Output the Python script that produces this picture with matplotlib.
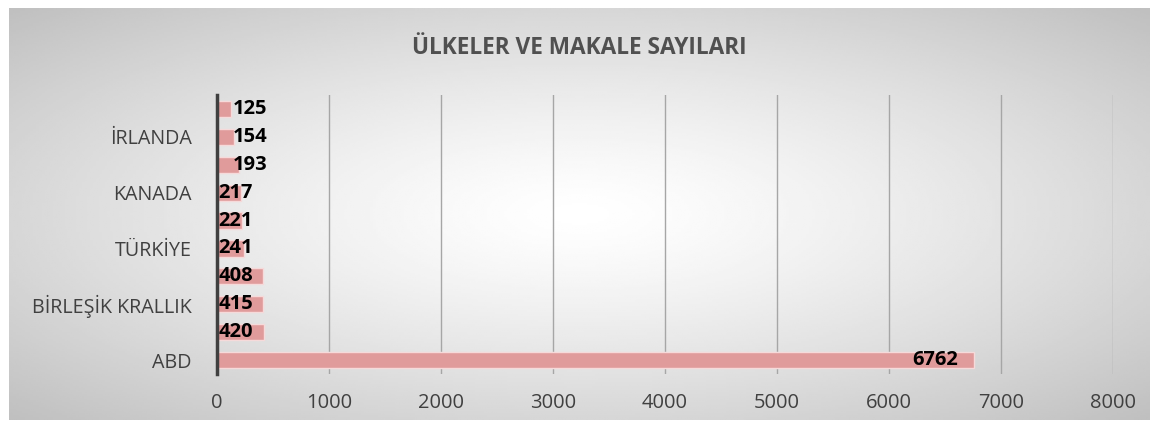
import numpy as np
import matplotlib.pyplot as plt

# ABD at the bottom, then upward
countries = ["ABD", "", "BİRLEŞİK KRALLIK", "", "TÜRKİYE", "", "KANADA", "", "İRLANDA", ""]
articles = [6762, 420, 415, 408, 241, 221, 217, 193, 154, 125]
x_ticks = [0, 1000, 2000, 3000, 4000, 5000, 6000, 7000, 8000]

plt.rcParams['font.family'] = ['Open Sans', 'DejaVu Sans']

fig = plt.figure(figsize=(11.58, 4.28), dpi=100)

# light gray radial gradient behind the chart
bg = fig.add_axes([9 / 1158, 8 / 428, 1141 / 1158, 412 / 428])
gx, gy = np.meshgrid(np.linspace(-1, 1, 400), np.linspace(-1, 1, 200))
r = np.sqrt(gx ** 2 + gy ** 2) / np.sqrt(2)
bg.imshow(1 - 0.25 * r ** 1.3, cmap='gray', vmin=0, vmax=1, aspect='auto', extent=[0, 1, 0, 1])
bg.set_axis_off()

ax = fig.add_axes([217 / 1158, 1 - 374 / 428, 896 / 1158, 279 / 428])
ax.patch.set_alpha(0)
y = np.arange(len(articles))
ax.barh(y, articles, height=0.58, color='#E09B9B', edgecolor='#F6DADA', linewidth=1, zorder=3)

for yi, v in zip(y, articles):
    if v > 1000:
        ax.text(v - 150, yi, str(v), ha='right', va='center', fontsize=14.5,
                fontweight='bold', color='black', zorder=4)
    else:
        xpos = 140 if v < 200 else 15
        ax.text(xpos, yi, str(v), ha='left', va='center', fontsize=14.5,
                fontweight='bold', color='black', zorder=4)

ax.set_xlim(0, 8000)
ax.set_ylim(-0.5, len(articles) - 0.5)
ax.set_xticks(x_ticks)
ax.set_xticklabels([str(t) for t in x_ticks])
ax.set_yticks(y[::2])
ax.set_yticklabels(countries[::2])
ax.tick_params(axis='x', length=0, pad=14, labelsize=14.5, colors='#404040')
ax.tick_params(axis='y', length=0, pad=18, labelsize=14.2, colors='#404040')
ax.grid(axis='x', color='#a6a6a6', linewidth=1, zorder=0)
for s in ['top', 'right', 'bottom']:
    ax.spines[s].set_visible(False)
ax.spines['left'].set_color('#404040')
ax.spines['left'].set_linewidth(2.5)
ax.spines['left'].set_zorder(5)

fig.text(0.5, 1 - 48 / 428, "ÜLKELER VE MAKALE SAYILARI", ha='center', va='center',
         fontsize=16.3, fontweight='bold', color='#505050')

fig.savefig("out.png", dpi=100)
